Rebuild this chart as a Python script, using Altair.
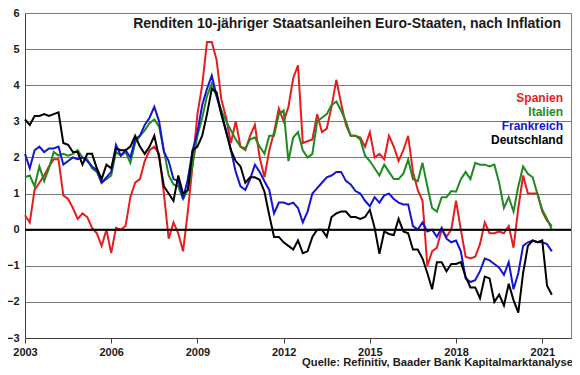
import altair as alt
import pandas as pd

# Bi-monthly observations, Jan 2003 .. May 2021 (111 points)
spanien = [
    0.4, 0.2, 1.1, 1.3, 1.5, 1.75,
    1.95, 1.95, 0.95, 0.85, 0.6, 0.3,
    0.45, 0.35, 0.05, -0.1, -0.45, 0.0,
    -0.65, 0.05, 0.0, 0.1, 0.9, 1.3,
    1.4, 1.9, 2.2, 2.3, 2.1, 1.0,
    -0.25, 0.2, -0.1, -0.6, 0.5, 1.8,
    3.2, 4.0, 5.2, 5.2, 4.7, 3.6,
    3.1, 2.4, 3.0, 2.3, 2.2, 2.6,
    2.9, 2.0, 1.45, 2.2, 2.7, 3.35,
    3.0, 3.4, 4.2, 4.55, 2.4, 2.45,
    2.5, 3.2, 2.7, 2.8, 3.4, 4.15,
    3.5, 2.9, 2.6, 2.6, 2.55, 2.3,
    2.7, 2.0, 2.1, 1.95, 2.6, 2.3,
    1.9, 2.2, 2.6, 1.6, 1.1, 0.8,
    -1.0, -0.6, -0.5, 0.0, -0.2, 0.0,
    0.8, 0.0, -0.75, -0.8, -0.75, -0.4,
    0.2, -0.1, -0.1, -0.05, -0.1, 0.1,
    -0.5, 0.6, 1.5, 1.0, 1.0, 1.0,
    0.5, 0.25, 0.1,
]
italien = [
    1.45, 1.5, 1.2, 1.75, 1.35, 1.7,
    2.15, 2.05, 2.1, 2.05, 2.1, 2.2,
    2.0, 1.95, 1.7, 1.6, 1.3, 1.4,
    1.5, 2.15, 2.05, 2.15, 1.85, 2.4,
    2.6, 2.75, 2.95, 3.05, 2.85, 2.2,
    1.5, 1.25, 1.2, 0.85, 1.1, 1.8,
    2.6, 3.1, 3.7, 4.05, 3.7, 3.3,
    3.0, 2.75, 2.5, 2.3, 2.25, 2.5,
    2.55, 2.3, 2.1, 2.6, 2.6, 3.2,
    3.3, 1.9, 2.55, 2.7, 2.2, 2.0,
    2.1, 3.0, 3.1, 3.2, 3.45, 3.55,
    3.3, 3.0, 2.6, 2.6, 2.5, 2.05,
    1.9, 1.7, 1.5, 1.8, 1.6, 1.4,
    1.4, 1.55, 1.94, 1.4, 1.34, 1.85,
    1.2, 0.6, 0.5, 0.9, 0.9, 1.07,
    1.05, 1.4, 1.6, 1.4, 1.85, 1.8,
    1.8, 1.75, 1.8, 1.3, 0.6, 0.9,
    0.5, 1.2, 1.75, 1.55, 1.45, 0.98,
    0.55, 0.3, 0.0,
]
frankreich = [
    2.1, 1.7, 2.2, 2.3, 2.15, 2.25,
    2.25, 2.3, 1.8, 1.9, 2.0, 1.95,
    2.0, 1.9, 1.75, 1.65, 1.3, 1.45,
    1.6, 2.35, 2.05, 2.2, 2.0, 2.5,
    2.6, 2.9, 3.1, 3.4, 3.0, 2.15,
    1.9, 1.4, 1.35, 0.85, 1.4, 2.2,
    2.7, 3.45, 3.9, 4.27, 3.7, 3.2,
    2.75, 2.2, 1.6, 1.2, 1.1, 1.4,
    1.8, 1.6, 1.34, 1.1, 0.45, 0.75,
    0.75, 0.7, 0.75, 0.6, 0.2, 0.5,
    1.0, 1.15, 1.3, 1.45, 1.5, 1.6,
    1.6, 1.35, 1.25, 1.07, 1.0, 0.8,
    0.65, 0.9, 0.75, 0.95, 1.0, 0.85,
    0.75, 0.7, 0.7, 0.1, 0.0, 0.2,
    -0.05, 0.0, -0.2, 0.05, -0.25, -0.35,
    -0.3, -0.6, -1.35, -1.45, -1.4, -1.15,
    -0.8, -0.85, -0.95, -1.05, -1.25, -0.9,
    -1.65, -1.2, -0.45, -0.35, -0.3, -0.35,
    -0.35, -0.4, -0.6,
]
deutschland = [
    3.05, 2.9, 3.15, 3.15, 3.2, 3.15,
    3.2, 3.25, 2.4, 2.35, 2.15, 2.15,
    1.8, 2.1, 2.1, 1.7, 1.4, 1.8,
    1.7, 2.25, 2.2, 2.2, 2.3, 2.6,
    2.3, 2.1, 2.3, 2.6, 2.0, 1.2,
    1.0, 0.8, 1.5, 1.0, 1.1, 2.2,
    2.3, 2.6, 3.2, 3.9, 3.8, 3.2,
    2.7, 2.2, 1.9, 1.75, 1.3, 1.45,
    1.45, 1.38, 1.05, 0.4, -0.2, -0.2,
    -0.35, -0.45, -0.55, -0.3, -0.65, -0.6,
    -0.2, 0.0, 0.0, -0.2, 0.35, 0.45,
    0.5, 0.5, 0.35, 0.35, 0.3, 0.35,
    0.55, 0.05, -0.67, -0.05, -0.12, -0.15,
    0.3, -0.05, -0.1, -0.55, -0.55, -0.8,
    -1.2, -1.65, -0.9, -0.9, -1.15, -0.95,
    -0.95, -0.9, -1.3, -1.6, -1.6, -1.9,
    -1.3, -1.35, -2.0, -1.8, -2.1, -1.5,
    -1.95, -2.3, -1.2, -0.45, -0.3, -0.35,
    -0.3, -1.55, -1.8,
]

series_names = ["Spanien", "Italien", "Frankreich", "Deutschland"]
series_colors = ["#e41e1e", "#1f8a1f", "#1414d2", "#000000"]
x_ticks = [2003, 2006, 2009, 2012, 2015, 2018, 2021]
y_ticks = [-3, -2, -1, 0, 1, 2, 3, 4, 5, 6]
title_text = "Renditen 10-jähriger Staatsanleihen Euro-Staaten, nach Inflation"
source_text = "Quelle: Refinitiv, Baader Bank Kapitalmarktanalyse"

dates = pd.date_range("2003-01-01", periods=len(spanien), freq="2MS")
tdec = list(dates.year + (dates.month - 1) / 12.0)

rows = []
for name, vals in zip(series_names, [spanien, italien, frankreich, deutschland]):
    for tt, v in zip(tdec, vals):
        rows.append({"t": tt, "value": v, "series": name})
df = pd.DataFrame(rows)

FONT = "Liberation Sans"

x_axis = alt.Axis(
    values=x_ticks, format="d", title=None, grid=False,
    tickSize=5, tickColor="#404040", domainColor="#404040",
    labelFont=FONT, labelFontWeight="bold", labelFontSize=11,
    labelColor="#1a1a1a", labelPadding=3, labelFlush=False,
    labelOverlap=False,
)
y_axis = alt.Axis(
    values=y_ticks, title=None, grid=True, gridColor="#7a7a7a",
    gridWidth=1, ticks=False, domainColor="#404040",
    labelFont=FONT, labelFontWeight="bold", labelFontSize=11,
    labelColor="#1a1a1a", labelPadding=6, labelFlush=False,
    labelOverlap=False, tickCount=10,
)
x_scale = alt.Scale(domain=[2003, 2022], nice=False, zero=False)
y_scale = alt.Scale(domain=[-3, 6], nice=False, zero=False)

layers = []
for name, col in zip(series_names, series_colors):
    layers.append(
        alt.Chart(df).transform_filter(alt.datum.series == name)
        .mark_line(color=col, strokeWidth=2)
        .encode(
            x=alt.X("t:Q", scale=x_scale, axis=x_axis),
            y=alt.Y("value:Q", scale=y_scale, axis=y_axis),
        )
    )

zero = alt.Chart(pd.DataFrame({"value": [0]})).mark_rule(
    color="black", strokeWidth=2
).encode(y=alt.Y("value:Q", scale=y_scale, axis=y_axis))

title = alt.Chart(pd.DataFrame({"txt": [title_text]})).mark_text(
    font=FONT, fontWeight="bold", fontSize=14, align="right",
    baseline="middle", color="#1a1a1a"
).encode(text="txt:N", x=alt.value(536), y=alt.value(11))

legend_y = [85, 98.5, 113, 126.5]
legend_layers = []
for name, col, ly in zip(series_names, series_colors, legend_y):
    legend_layers.append(
        alt.Chart(pd.DataFrame({"txt": [name]})).mark_text(
            font=FONT, fontWeight="bold", fontSize=12, align="right",
            baseline="middle", color=col
        ).encode(text="txt:N", x=alt.value(538), y=alt.value(ly))
    )

source = alt.Chart(pd.DataFrame({"txt": [source_text]})).mark_text(
    font=FONT, fontWeight="bold", fontSize=11.2, align="right",
    baseline="middle", color="#1a1a1a"
).encode(text="txt:N", x=alt.value(548), y=alt.value(350))

chart = alt.layer(*layers, zero, title, *legend_layers, source).properties(
    width=546, height=325,
    padding={"left": 17, "top": 5, "right": 1, "bottom": 33},
    autosize="none",
).configure_view(stroke="#7a7a7a", strokeWidth=1)

chart.save("out.html", embed_options={"renderer": "svg", "actions": False})
